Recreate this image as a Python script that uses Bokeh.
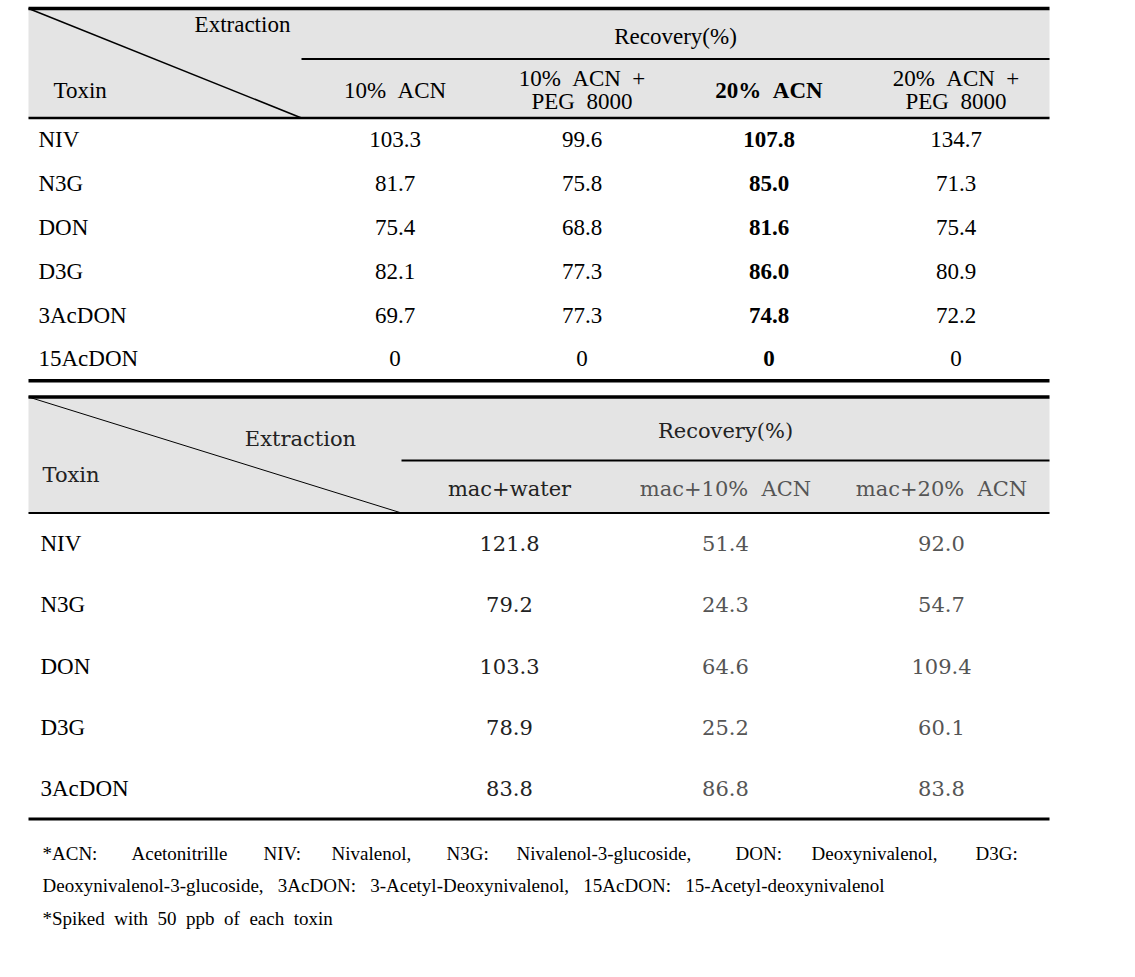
from bokeh.plotting import figure
from bokeh.models import Range1d
from bokeh.core.properties import value
from bokeh.embed import file_html
from bokeh.resources import INLINE

# ---------------- data ----------------
toxins1 = ["NIV", "N3G", "DON", "D3G", "3AcDON", "15AcDON"]
cols1 = [["10%\u00a0\u00a0ACN"], ["10%\u00a0\u00a0ACN\u00a0\u00a0+", "PEG\u00a0\u00a08000"],
         ["20%\u00a0\u00a0ACN"], ["20%\u00a0\u00a0ACN\u00a0\u00a0+", "PEG\u00a0\u00a08000"]]
acn10 = [103.3, 81.7, 75.4, 82.1, 69.7, 0]
acn10_peg = [99.6, 75.8, 68.8, 77.3, 77.3, 0]
acn20 = [107.8, 85.0, 81.6, 86.0, 74.8, 0]
acn20_peg = [134.7, 71.3, 75.4, 80.9, 72.2, 0]
bold_col1 = 2

toxins2 = ["NIV", "N3G", "DON", "D3G", "3AcDON"]
cols2 = ["mac+water", "mac+10%\u00a0\u00a0ACN", "mac+20%\u00a0\u00a0ACN"]
mac_water = [121.8, 79.2, 103.3, 78.9, 83.8]
mac_acn10 = [51.4, 24.3, 64.6, 25.2, 86.8]
mac_acn20 = [92.0, 54.7, 109.4, 60.1, 83.8]

notes_line1 = ["*ACN:", "Acetonitrille", "NIV:", "Nivalenol,", "N3G:", "Nivalenol-3-glucoside,",
               "DON:", "Deoxynivalenol,", "D3G:"]
notes_line2 = "Deoxynivalenol-3-glucoside,\u00a0\u00a0\u00a03AcDON:\u00a0\u00a0\u00a03-Acetyl-Deoxynivalenol,\u00a0\u00a0\u00a015AcDON:\u00a0\u00a0\u00a015-Acetyl-deoxynivalenol"
notes_line3 = "*Spiked\u00a0\u00a0with\u00a0\u00a050\u00a0\u00a0ppb\u00a0\u00a0of\u00a0\u00a0each\u00a0\u00a0toxin"


def fmt(v):
    return "0" if v == 0 else f"{v:.1f}"


# ---------------- figure ----------------
W, H = 1110, 955
p = figure(width=W, height=H, output_backend="svg", toolbar_location=None,
           x_range=Range1d(0, W), y_range=Range1d(H, 0),
           min_border=0, x_axis_location=None, y_axis_location=None)
p.outline_line_color = None
p.xgrid.visible = False
p.ygrid.visible = False
p.background_fill_color = "white"

SERIF = value("Liberation Serif")
KSERIF = value("DejaVu Serif")
BG = "#e4e4e4"
L, R = 28, 1049

# ================= table 1 =================
t1_top, t1_mid, t1_hb = 8, 58.5, 117.5
t1_split = 301
rh1 = 43.8
t1_bottom = t1_hb + rh1 * len(toxins1)
colw1 = (R - t1_split) / len(cols1)
cx1 = [t1_split + colw1 * (i + 0.5) for i in range(len(cols1))]

p.quad(left=[L], right=[R], top=[t1_top], bottom=[t1_hb], fill_color=BG, line_color=None)
p.segment(x0=[L], y0=[t1_top], x1=[t1_split], y1=[t1_hb], line_color="black", line_width=1.6)
p.segment(x0=[L, t1_split, L, L], y0=[t1_top, t1_mid, t1_hb, t1_bottom],
          x1=[R, R, R, R], y1=[t1_top, t1_mid, t1_hb, t1_bottom],
          line_color="black", line_width=[3.5, 2.2, 2.6, 3.5])

fs1 = value("23px")
p.text(x=[242], y=[24], text=["Extraction"], text_font=SERIF, text_font_size=fs1,
       text_align="center", text_baseline="middle", text_color="black")
p.text(x=[53], y=[90], text=["Toxin"], text_font=SERIF, text_font_size=fs1,
       text_align="left", text_baseline="middle", text_color="black")
p.text(x=[(t1_split + R) / 2], y=[36], text=["Recovery(%)"], text_font=SERIF, text_font_size=fs1,
       text_align="center", text_baseline="middle", text_color="black")
for i, lines in enumerate(cols1):
    style = "bold" if i == bold_col1 else "normal"
    if len(lines) == 1:
        ys = [90]
    else:
        ys = [78, 101]
    p.text(x=[cx1[i]] * len(lines), y=ys, text=lines, text_font=SERIF, text_font_size=fs1,
           text_font_style=style, text_align="center", text_baseline="middle", text_color="black")

ry1 = [t1_hb + rh1 * (j + 0.5) for j in range(len(toxins1))]
p.text(x=[38] * len(toxins1), y=ry1, text=toxins1, text_font=SERIF, text_font_size=fs1,
       text_align="left", text_baseline="middle", text_color="black")
for i, series in enumerate([acn10, acn10_peg, acn20, acn20_peg]):
    style = "bold" if i == bold_col1 else "normal"
    p.text(x=[cx1[i]] * len(series), y=ry1, text=[fmt(v) for v in series], text_font=SERIF,
           text_font_size=fs1, text_font_style=style, text_align="center",
           text_baseline="middle", text_color="black")

# ================= table 2 =================
t2_top, t2_mid, t2_hb = 396.5, 460, 512.5
t2_split = 401
rh2 = 61.2
t2_bottom = t2_hb + rh2 * len(toxins2)
colw2 = (R - t2_split) / len(cols2)
cx2 = [t2_split + colw2 * (i + 0.5) for i in range(len(cols2))]

p.quad(left=[L], right=[R], top=[t2_top], bottom=[t2_hb], fill_color=BG, line_color=None)
p.segment(x0=[L], y0=[t2_top], x1=[t2_split], y1=[t2_hb], line_color="black", line_width=1.0)
p.segment(x0=[L, t2_split, L, L], y0=[t2_top, t2_mid, t2_hb, t2_bottom],
          x1=[R, R, R, R], y1=[t2_top, t2_mid, t2_hb, t2_bottom],
          line_color="black", line_width=[3.5, 2.2, 2.2, 3.0])

fs2 = value("21px")
p.text(x=[300], y=[438], text=["Extraction"], text_font=KSERIF, text_font_size=fs2,
       text_align="center", text_baseline="middle", text_color="#222222")
p.text(x=[42], y=[474], text=["Toxin"], text_font=KSERIF, text_font_size=fs2,
       text_align="left", text_baseline="middle", text_color="#222222")
p.text(x=[(t2_split + R) / 2], y=[430], text=["Recovery(%)"], text_font=KSERIF, text_font_size=fs2,
       text_align="center", text_baseline="middle", text_color="#222222")
p.text(x=cx2, y=[488] * len(cols2), text=cols2, text_font=KSERIF, text_font_size=fs2,
       text_align="center", text_baseline="middle", text_color=["#222222", "#555555", "#555555"])

ry2 = [t2_hb + rh2 * (j + 0.5) for j in range(len(toxins2))]
p.text(x=[40] * len(toxins2), y=ry2, text=toxins2, text_font=SERIF, text_font_size=fs1,
       text_align="left", text_baseline="middle", text_color="black")
for i, series in enumerate([mac_water, mac_acn10, mac_acn20]):
    col = "#222222" if i == 0 else "#555555"
    p.text(x=[cx2[i]] * len(series), y=ry2, text=[fmt(v) for v in series], text_font=KSERIF,
           text_font_size=fs2, text_align="center", text_baseline="middle", text_color=col)

# ================= footnotes =================
fs3 = value("19px")
note_x1 = [42, 131, 263, 331, 446, 516, 735, 811, 975]
p.text(x=note_x1, y=[853] * len(notes_line1), text=notes_line1, text_font=SERIF, text_font_size=fs3,
       text_align="left", text_baseline="middle", text_color="black")
p.text(x=[42, 42], y=[885, 918], text=[notes_line2, notes_line3], text_font=SERIF, text_font_size=fs3,
       text_align="left", text_baseline="middle", text_color="black")

open("out.html", "w").write(file_html(p, INLINE))
